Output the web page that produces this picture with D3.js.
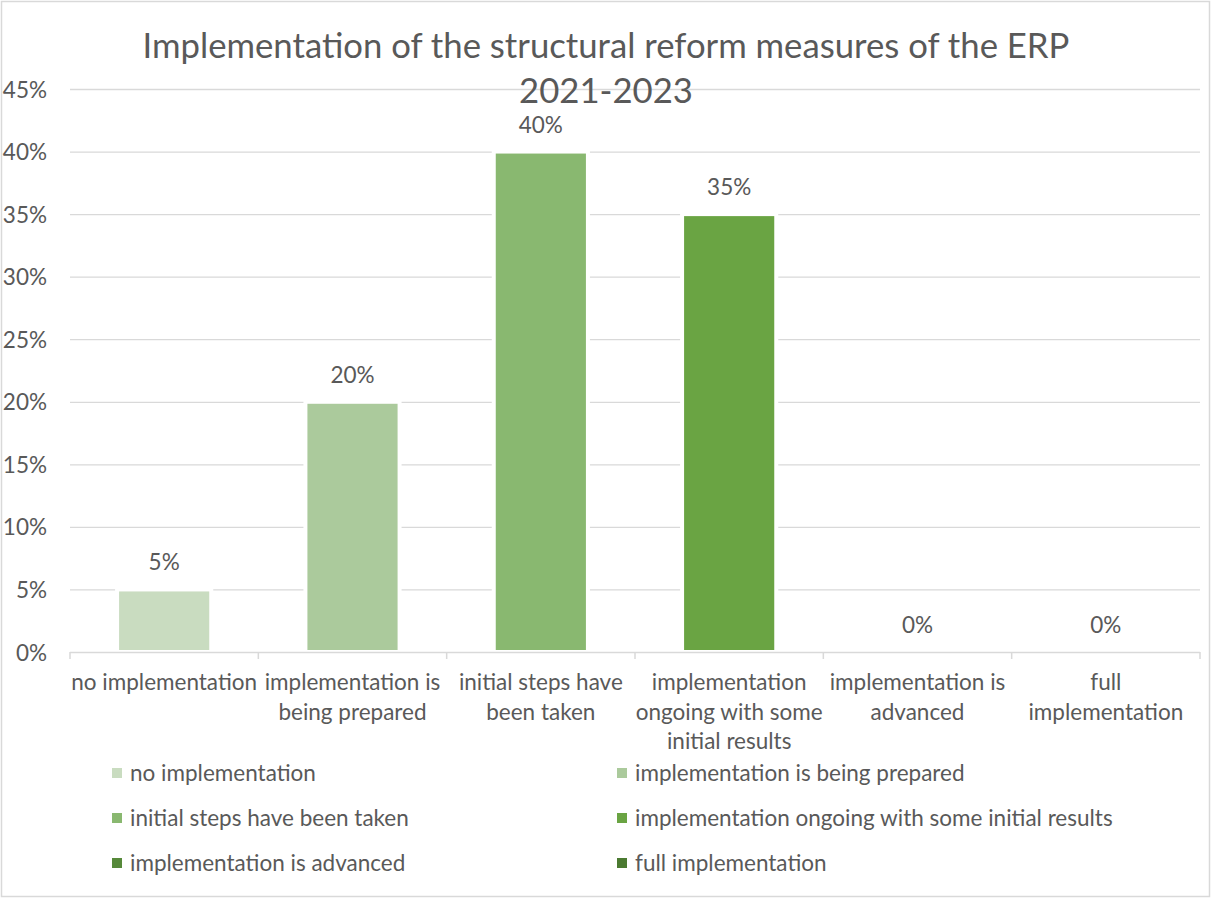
<!DOCTYPE html>
<html lang="en">
<head>
<meta charset="UTF-8">
<title>Implementation of the structural reform measures of the ERP</title>
<script src="https://d3js.org/d3.v7.min.js"></script>
<style>
  body { margin: 0; background: #fff; font-family: "Lato", "Open Sans", sans-serif; }
  text { fill: #595959; }
</style>
</head>
<body>
<svg id="chart" width="1212" height="899"></svg>
<script>
// chart data
const categories = [
  "no implementation",
  "implementation is being prepared",
  "initial steps have been taken",
  "implementation ongoing with some initial results",
  "implementation is advanced",
  "full implementation"
];
const values = [0.05, 0.20, 0.40, 0.35, 0, 0];
// category labels as Excel wraps them under the axis
const categoryLines = [
  ["no implementation"],
  ["implementation is", "being prepared"],
  ["initial steps have", "been taken"],
  ["implementation", "ongoing with some", "initial results"],
  ["implementation is", "advanced"],
  ["full", "implementation"]
];
const yTicks = [0, 0.05, 0.10, 0.15, 0.20, 0.25, 0.30, 0.35, 0.40, 0.45];
const titleLines = ["Implementation of the structural reform measures of the ERP", "2021-2023"];

const svg = d3.select("#chart");
const width = +svg.attr("width");
const height = +svg.attr("height");

const plot = { left: 70, right: 1200, top: 89, bottom: 652 };
const grey = "#D9D9D9";
const fontSize = 22.5;

const color = d3.scaleOrdinal()
  .domain(categories)
  .range(["#C9DCC0", "#ABCA9C", "#89B870", "#6AA443", "#56893A", "#4B7A31"]);

const x = d3.scaleBand()
  .domain(categories)
  .range([plot.left, plot.right])
  .paddingInner(0.5)
  .paddingOuter(0.25);

const y = d3.scaleLinear()
  .domain([0, 0.45])
  .range([plot.bottom, plot.top]);

// outer border
svg.append("rect")
  .attr("x", 1.5).attr("y", 1.5)
  .attr("width", width - 4).attr("height", height - 4)
  .attr("fill", "none")
  .attr("stroke", grey)
  .attr("stroke-width", 1.5);

// gridlines
svg.append("g")
  .attr("transform", `translate(${plot.left},0)`)
  .call(d3.axisLeft(y).tickValues(yTicks.slice(1)).tickSize(-(plot.right - plot.left)).tickFormat(""))
  .call(g => g.select(".domain").remove())
  .call(g => g.selectAll("line").attr("stroke", grey).attr("stroke-width", 1.3));

// y axis labels
svg.append("g")
  .attr("transform", "translate(47,0)")
  .call(d3.axisLeft(y).tickValues(yTicks).tickSize(0).tickPadding(0).tickFormat(d3.format(".0%")))
  .call(g => g.select(".domain").remove())
  .call(g => g.selectAll("text")
    .attr("font-family", "Lato")
    .attr("font-size", fontSize)
    .attr("fill", "#595959")
    .attr("dy", "0.36em"));

// bars
svg.append("g")
  .selectAll("rect")
  .data(categories)
  .join("rect")
  .attr("x", d => x(d))
  .attr("y", (d, i) => y(values[i]))
  .attr("width", x.bandwidth())
  .attr("height", (d, i) => y(0) - y(values[i]))
  .attr("fill", d => color(d))
  .attr("stroke", "#fff")
  .attr("stroke-width", 4)
  .attr("opacity", (d, i) => values[i] > 0 ? 1 : 0);

// data labels
svg.append("g")
  .selectAll("text")
  .data(categories)
  .join("text")
  .attr("x", d => x(d) + x.bandwidth() / 2)
  .attr("y", (d, i) => y(values[i]) - 19)
  .attr("text-anchor", "middle")
  .attr("font-size", fontSize)
  .text((d, i) => d3.format(".0%")(values[i]));

// x axis line and boundary ticks
svg.append("line")
  .attr("x1", plot.left).attr("x2", plot.right)
  .attr("y1", plot.bottom + 0.5).attr("y2", plot.bottom + 0.5)
  .attr("stroke", grey).attr("stroke-width", 1.5);

svg.append("g")
  .selectAll("line")
  .data(d3.range(categories.length + 1))
  .join("line")
  .attr("x1", i => plot.left + i * x.step())
  .attr("x2", i => plot.left + i * x.step())
  .attr("y1", plot.bottom)
  .attr("y2", plot.bottom + 7)
  .attr("stroke", grey).attr("stroke-width", 1.5);

// category labels
const catG = svg.append("g")
  .selectAll("text")
  .data(categories)
  .join("text")
  .attr("x", d => x(d) + x.bandwidth() / 2)
  .attr("y", 690)
  .attr("text-anchor", "middle")
  .attr("font-size", fontSize);
catG.selectAll("tspan")
  .data((d, i) => categoryLines[i])
  .join("tspan")
  .attr("x", function () { return d3.select(this.parentNode).attr("x"); })
  .attr("dy", (d, j) => j === 0 ? 0 : 29.5)
  .text(d => d);

// title
svg.append("text")
  .attr("x", width / 2)
  .attr("y", 58)
  .attr("text-anchor", "middle")
  .attr("font-size", 34.7)
  .selectAll("tspan")
  .data(titleLines)
  .join("tspan")
  .attr("x", width / 2)
  .attr("dy", (d, i) => i === 0 ? 0 : 45)
  .text(d => d);

// legend, two columns
const legend = svg.append("g")
  .selectAll("g")
  .data(categories)
  .join("g")
  .attr("transform", (d, i) => `translate(${i % 2 === 0 ? 112 : 617},${773 + Math.floor(i / 2) * 45})`);

legend.append("rect")
  .attr("x", 0).attr("y", -5)
  .attr("width", 10).attr("height", 10)
  .attr("fill", d => color(d));

legend.append("text")
  .attr("x", 18)
  .attr("dy", "0.35em")
  .attr("font-size", fontSize)
  .text(d => d);
</script>
</body>
</html>
